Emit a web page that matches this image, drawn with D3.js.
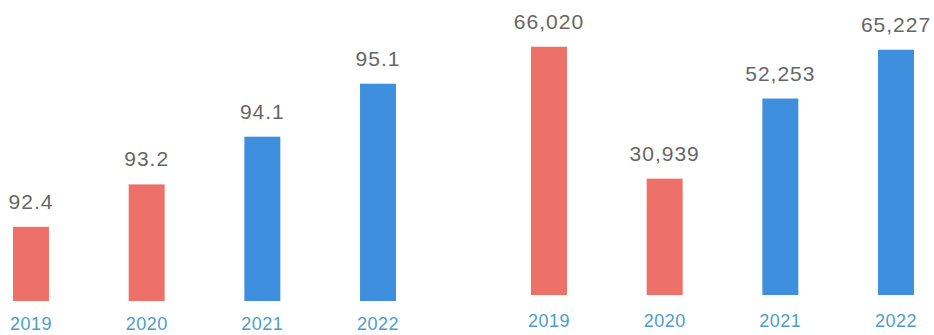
<!DOCTYPE html>
<html>
<head>
<meta charset="utf-8">
<script src="https://cdn.jsdelivr.net/npm/d3@7"></script>
<style>
  html, body { margin: 0; padding: 0; background: #ffffff; }
  svg { display: block; }
</style>
</head>
<body>
<svg id="chart" width="934" height="335"></svg>
<script>
// Years shared by both panels
const years = ["2019", "2020", "2021", "2022"];

// Left panel: rate values (axis starts above zero)
const rateValues = [92.4, 93.2, 94.1, 95.1];
const rateLabels = ["92.4", "93.2", "94.1", "95.1"];

// Right panel: counts
const countValues = [66020, 30939, 52253, 65227];
const countLabels = ["66,020", "30,939", "52,253", "65,227"];

// Bar colour per year: first two years red, last two blue
const barColors = ["#ee7169", "#ee7169", "#3f8fdf", "#3f8fdf"];

const svg = d3.select("#chart");

function drawPanel(values, labels, x, y, yearBaseline) {
  const g = svg.append("g");
  const base = y.range()[0];

  g.selectAll("rect.bar")
    .data(values)
    .join("rect")
    .attr("class", "bar")
    .attr("x", (d, i) => x(years[i]))
    .attr("width", x.bandwidth())
    .attr("y", d => y(d))
    .attr("height", d => base - y(d))
    .attr("fill", (d, i) => barColors[i]);

  g.selectAll("text.value")
    .data(values)
    .join("text")
    .attr("class", "value")
    .attr("x", (d, i) => x(years[i]) + x.bandwidth() / 2)
    .attr("y", d => y(d) - 18)
    .attr("text-anchor", "middle")
    .attr("font-family", "Liberation Sans, Arial, sans-serif")
    .attr("font-size", 21)
    .attr("letter-spacing", 1)
    .attr("fill", "#666666")
    .text((d, i) => labels[i]);

  g.selectAll("text.year")
    .data(years)
    .join("text")
    .attr("class", "year")
    .attr("x", d => x(d) + x.bandwidth() / 2)
    .attr("y", yearBaseline)
    .attr("text-anchor", "middle")
    .attr("font-family", "Liberation Sans, Arial, sans-serif")
    .attr("font-size", 18)
    .attr("letter-spacing", 0.5)
    .attr("fill", "#4d9dcc")
    .text(d => d);
}

// Left panel scales
const xLeft = d3.scaleBand().domain(years).range([13, 396]).paddingInner(0.689).paddingOuter(0);
const yLeft = d3.scaleLinear().domain([91, 96]).range([301, 36]);
drawPanel(rateValues, rateLabels, xLeft, yLeft, 330);

// Right panel scales
const xRight = d3.scaleBand().domain(years).range([531, 914]).paddingInner(0.689).paddingOuter(0);
const yRight = d3.scaleLinear().domain([0, 70000]).range([295, 31.8]);
drawPanel(countValues, countLabels, xRight, yRight, 327);
</script>
</body>
</html>
